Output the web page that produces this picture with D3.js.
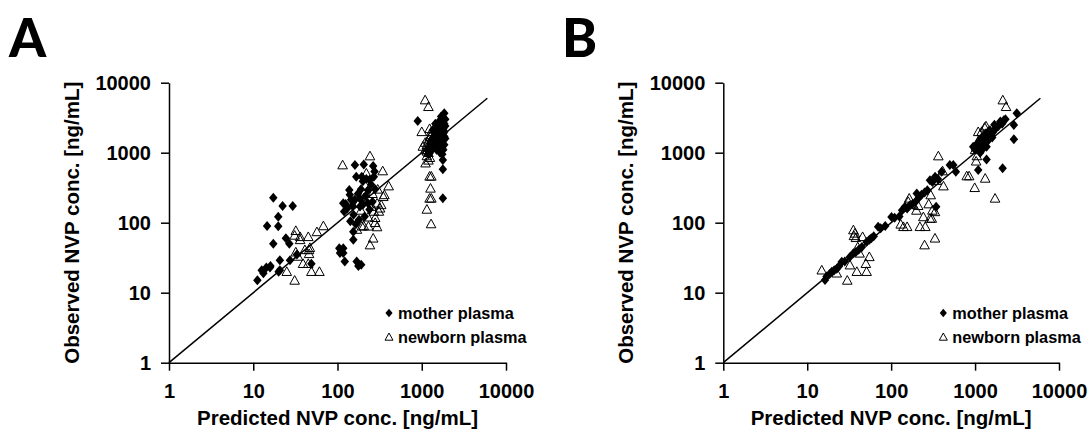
<!DOCTYPE html>
<html>
<head>
<meta charset="utf-8">
<script src="https://cdn.jsdelivr.net/npm/d3@7"></script>
<style>
  body { margin: 0; background: #fff; }
  svg text { font-family: "Liberation Sans", Arial, sans-serif; font-weight: bold; fill: #000; }
  .panel-letter { font-family: Lato, "Open Sans", sans-serif !important; font-weight: 900 !important; }
</style>
</head>
<body>
<svg id="chart"></svg>
<script>
// Datos: [predicho, observado] en ng/mL
const aMother = [
  [11.2,15],[12.6,21],[13.2,19],[14.3,23],[15.8,23],[14.6,90],[17.3,228],[17.3,50],[19.8,122],[19.8,89],
  [22.3,173],[29.4,173],[20.7,29],[20.7,21],[24.4,60],[26.8,50],[27.3,29],[49,26],[20,20],[33,35],[16,24],
  [105,43],[107,37],[117,43],[117,37],[122,28],[117,189],[120,145],[138,293],[140,250],[142,105],[154,74],
  [154,57],[160,213],[161,667],[167,454],[194,454],[205,680],[265,645],[169,28],[177,24],[191,25],[200,390],
  [210,123],[230,290],[240,410],[270,455],[275,540],[230,190],[240,155],[180,110],[145,213],[185,170],
  [175,260],[250,350],[220,420],[200,180],[130,160],[155,130],[190,300],[260,200],[280,300],[215,240],
  [165,95],[125,185],[150,175],[185,220],
  [896,2840],[1780,787],[1780,580],[1780,223],[1850,3650],[1800,3100],[1750,2800],[1700,2500],[1650,2200],
  [1600,2000],[1550,1800],[1500,1600],[1450,1400],[1400,1300],[1350,1200],[1300,1100],[1250,1000],
  [1200,950],[1800,1500],[1850,1700],[1750,1300],[1700,1200],[1650,1000],[1800,2200],[1850,2600],
  [1900,3000],[1600,1500],[1500,2400],[1450,1900],[1400,1700],[1300,1500],[1700,1750],[1800,1100],
  [1750,950],[1600,2700],[1550,1200],[1850,1300],[1700,3300],[1800,1900],[1900,2400],[1250,1350],
  [1150,1100],[1350,2100],[1650,2900],[1750,2100],[1850,2000],[1900,1600],[1500,1100],[1600,1250],[1450,2600]
];

const aNewborn = [
  [32,77],[31,66],[36,63],[45,63],[36,57],[57,74],[68,90],[41,41],[46,41],[46,36],[32,38],[39,26],[49,20],
  [61,20],[25,20],[31,15],[45,26],[34,33],[47,44],
  [115,667],[243,897],[344,548],[405,334],[350,235],[320,161],[265,60],[243,48],[295,87],[270,145],
  [310,145],[280,118],[233,89],[195,89],[178,190],[205,225],[220,510],[245,330],[295,190],[260,260],
  [170,80],[210,200],[280,100],[300,300],[255,170],[230,120],[190,150],[330,180],[360,250],[205,90],
  [1096,5660],[1200,4540],[1000,1990],[1240,2200],[1030,1230],[1110,710],[1240,460],[1300,460],[1270,310],
  [1240,223],[1300,223],[1150,155],[1290,96],[1100,1100],[1150,1300],[1200,1500],[1250,1700],[1300,1800],
  [1200,1000],[1250,850],[1150,900],[1300,2000],[1350,1500],[1100,1400],[1200,780],[1250,1250],[1150,1050]
];

const bMother = [
  [16.3,15.2],[17,17],[18.5,18.5],[19.6,20],[21,21],[22.5,22],[24,24],[25.8,27.7],[28,28],[32,32],
  [35.5,36.6],[38,38],[41,41],[44.8,45],[51,53],[55,57],[58,60],[62,64],[70,87.6],[75,83],[85,90],
  [101,121],[110,118],[125,123],[135,150],[146,169],[155,160],[165,175],[180,185],[195,200],[202,262],
  [215,230],[230,250],[250,270],[270,290],[290,405],[310,380],[334,455],[360,420],[400,535],[344,169],
  [500,666],[550,666],[590,535],[1090,565],[1370,800],[2130,600],[2900,1560],[2900,2490],[3140,3650],
  [950,1220],[1000,1100],[1050,1300],[1100,1400],[1150,1520],[1200,1350],[1250,1500],[1300,1600],
  [1370,1220],[1400,1700],[1500,2100],[1550,1800],[1620,1950],[1700,2500],[1800,2300],[2000,2780],
  [2100,2600],[2300,3000],[2200,2900],[1250,1150],[1400,1450],[1600,1650],[1900,2400],[1150,1000],[1300,1300],
  [1350,1900],[1450,2000],[1750,2200],[1200,1650],[1100,1250]
];

const bNewborn = [
  [14.9,21],[22.5,19],[30,15],[32.3,24.8],[39,20],[51,20],[55,32.6],[50,26],[42,36.6],[35.5,78.7],
  [37,70.6],[38,61],[45.7,63],[36,65],[40,45],
  [130,95],[140,87.6],[155,87.6],[164,223],[160,200],[180,180],[200,150],[210,175],[220,87.6],[242,121],
  [250,48],[255,87.6],[280,185],[290,115],[296,249],[305,115],[310,150],[333,143],[333,60],[350,400],
  [365,897],[410,548],[420,334],
  [795,465],[850,465],[990,316],[1320,430],[1730,223],[1030,756],[1000,1100],[1050,900],[1090,1990],
  [1100,1150],[1100,1500],[1150,1250],[1200,2000],[1250,1700],[1300,2300],[1350,2400],[1400,1800],
  [1500,2000],[2140,5650],[2340,4540]
];

const tickValues = [1, 10, 100, 1000, 10000];
const identityLine = [1, 6000];
const legendLabels = ["mother plasma", "newborn plasma"];

// Tamaño de la figura
const W = 1092, H = 435;
const svg = d3.select("#chart").attr("width", W).attr("height", H);
svg.append("rect").attr("width", W).attr("height", H).attr("fill", "#fff");

// Formas de los marcadores
const diamond = s => `M0,${-s}L${s * 0.85},0L0,${s}L${-s * 0.85},0Z`;
const triangle = s => `M0,${-s}L${s},${s * 0.8}L${-s},${s * 0.8}Z`;

function drawPanel(opts) {
  const x = d3.scaleLog().domain([1, 10000]).range([opts.left, opts.right]);
  const y = d3.scaleLog().domain([1, 10000]).range([362.7, 82.7]);
  const g = svg.append("g");

  // Letra del panel
  svg.append("text")
    .attr("class", "panel-letter")
    .attr("x", opts.letterX)
    .attr("y", 57)
    .style("font-size", "53px")
    .text(opts.letter);

  // Ejes
  const xAxis = d3.axisBottom(x).tickValues(tickValues).tickFormat(d3.format("d"))
    .tickSize(8).tickSizeOuter(0).tickPadding(13);
  const yAxis = d3.axisLeft(y).tickValues(tickValues).tickFormat(d3.format("d"))
    .tickSize(8).tickSizeOuter(0).tickPadding(10);

  const xAxisG = g.append("g").attr("transform", "translate(0,362.7)").call(xAxis);
  const yAxisG = g.append("g").attr("transform", `translate(${opts.left},0)`).call(yAxis);
  [xAxisG, yAxisG].forEach(a => {
    a.selectAll("path, line").attr("stroke", "#000").attr("stroke-width", 1.5);
    a.selectAll("text").style("font-size", "20px");
    a.attr("font-family", null);
  });

  // Títulos de los ejes
  g.append("text")
    .attr("x", (opts.left + opts.right) / 2)
    .attr("y", 425)
    .attr("text-anchor", "middle")
    .style("font-size", "20.5px")
    .text("Predicted NVP conc. [ng/mL]");

  g.append("text")
    .attr("transform", `translate(${opts.left - 90},${(362.7 + 82.7) / 2}) rotate(-90)`)
    .attr("text-anchor", "middle")
    .style("font-size", "20.5px")
    .text("Observed NVP conc. [ng/mL]");

  // Línea de identidad
  g.append("line")
    .attr("x1", x(identityLine[0])).attr("y1", y(identityLine[0]))
    .attr("x2", x(identityLine[1])).attr("y2", y(identityLine[1]))
    .attr("stroke", "#000").attr("stroke-width", 1.5);

  // Puntos de la madre (rombos)
  g.append("g").selectAll("path")
    .data(opts.mother)
    .join("path")
    .attr("d", diamond(5))
    .attr("transform", d => `translate(${x(d[0])},${y(d[1])})`)
    .attr("fill", "#000");

  // Puntos del recién nacido (triángulos)
  g.append("g").selectAll("path")
    .data(opts.newborn)
    .join("path")
    .attr("d", triangle(4.8))
    .attr("transform", d => `translate(${x(d[0])},${y(d[1])})`)
    .attr("fill", "none")
    .attr("stroke", "#000")
    .attr("stroke-width", 1);

  // Leyenda
  const lx = opts.left + 220;
  const leg = g.append("g");
  leg.append("path").attr("d", diamond(4.2)).attr("transform", `translate(${lx},313)`).attr("fill", "#000");
  leg.append("path").attr("d", triangle(4)).attr("transform", `translate(${lx},337)`)
    .attr("fill", "none").attr("stroke", "#000").attr("stroke-width", 1);
  legendLabels.forEach((t, i) => {
    leg.append("text")
      .attr("x", lx + 9)
      .attr("y", 313 + i * 24)
      .attr("dy", "0.35em")
      .style("font-size", "16.3px")
      .text(t);
  });
}

drawPanel({ letter: "A", letterX: 9, left: 169, right: 506, mother: aMother, newborn: aNewborn });
drawPanel({ letter: "B", letterX: 562, left: 723.3, right: 1059, mother: bMother, newborn: bNewborn });
</script>
</body>
</html>
